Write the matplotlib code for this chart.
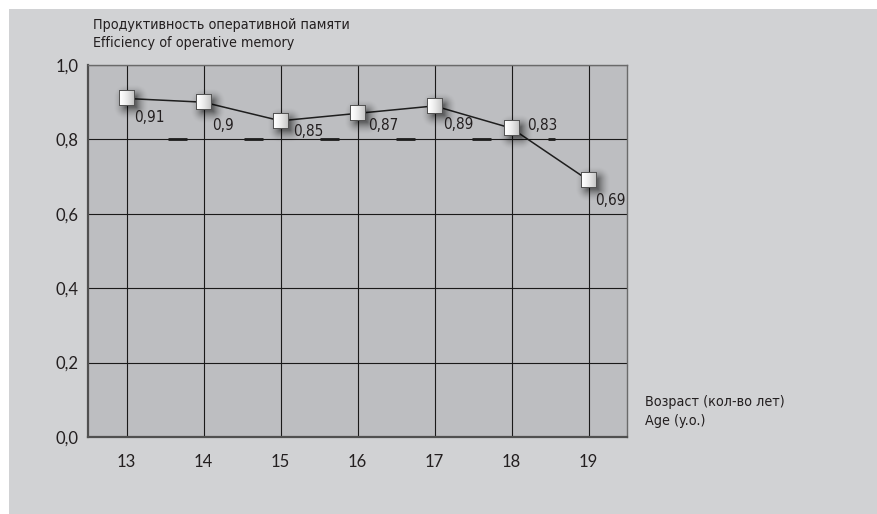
#! /usr/bin/env python3

import numpy as np
import matplotlib
matplotlib.use('Agg')
import matplotlib.pyplot as plt
from matplotlib.patches import Rectangle
from matplotlib.offsetbox import OffsetImage, AnnotationBbox

# data
ages = [13, 14, 15, 16, 17, 18, 19]
efficiency = [0.91, 0.90, 0.85, 0.87, 0.89, 0.83, 0.69]
value_labels = ['0,91', '0,9', '0,85', '0,87', '0,89', '0,83', '0,69']
y_ticks = [0.0, 0.2, 0.4, 0.6, 0.8, 1.0]
y_tick_labels = ['0,0', '0,2', '0,4', '0,6', '0,8', '1,0']
title_lines = ['Продуктивность оперативной памяти', 'Efficiency of operative memory']
xlabel_lines = ['Возраст (кол-во лет)', 'Age (y.o.)']

# label offsets in pixels (dx, dy) relative to marker centre
label_offsets = [(8, -19), (9, -23), (13, -11), (11, -12), (9, -19), (16, 3), (7, -20)]

NARROW = ['Liberation Sans Narrow', 'DejaVu Sans']
REGULAR = ['Lato', 'DejaVu Sans']

DPI = 100
PT = 72 / DPI  # points per pixel

fig = plt.figure(figsize=(8.78, 5.14), dpi=DPI, facecolor='white')
fig.patches.append(Rectangle((9 / 878, 0), 1, 1 - 9 / 514, transform=fig.transFigure,
                             facecolor='#d1d2d4', edgecolor='none', zorder=-10))

ax = fig.add_axes([88 / 878, 1 - 437 / 514, (627 - 88) / 878, (437 - 65) / 514])
ax.set_zorder(5)
ax.set_facecolor('#bdbec1')
ax.set_xlim(12.5, 19.5)
ax.set_ylim(0, 1.0)
ax.set_xticks(ages)
ax.set_xticklabels([str(a) for a in ages])
ax.set_yticks(y_ticks)
ax.set_yticklabels(y_tick_labels)
ax.tick_params(length=0, labelsize=12, colors='#231f20')
ax.tick_params(axis='y', pad=7)
ax.tick_params(axis='x', pad=12)
for lab in ax.get_xticklabels() + ax.get_yticklabels():
    lab.set_family(REGULAR)
ax.grid(True, color='#1a1a1a', linewidth=0.8)
ax.set_axisbelow(True)
for side in ['left', 'bottom']:
    ax.spines[side].set_color('#505050')
    ax.spines[side].set_linewidth(1.6)
for side in ['top', 'right']:
    ax.spines[side].set_color('#6a6a6a')
    ax.spines[side].set_linewidth(1.0)

# faint dark dashes on the 0.8 line (dash lengths given in pixels, scaled by lw)
lw_dash = 2.0
ax.axhline(0.8, xmin=80 / 539, xmax=467 / 539, color='#1c1c1c', linewidth=lw_dash,
           dashes=(19 * PT / lw_dash, 57 * PT / lw_dash), dash_capstyle='butt',
           zorder=1.5)

ax.plot(ages, efficiency, color='#1e1e1e', linewidth=1.1, zorder=3)

# marker images: shadow and gradient square
n = 16
gx = np.linspace(0, 1, n)
shade = 1.0 - 0.24 * gx ** 1.5
square = np.ones((n, n, 4))
square[:, :, 0] = shade[None, :]
square[:, :, 1] = shade[None, :]
square[:, :, 2] = shade[None, :]
edge = np.array([0.33, 0.33, 0.33, 1.0])
square[0, :] = edge
square[-1, :] = edge
square[:, 0] = edge
square[:, -1] = edge

m = 40
yy, xx = np.mgrid[0:m, 0:m]
c = (m - 1) / 2
dist = np.sqrt(np.maximum(np.abs(xx - c) - 5, 0) ** 2 + np.maximum(np.abs(yy - c) - 5, 0) ** 2)
alpha = np.clip(1 - dist / 13.0, 0, 1) ** 1.8 * 0.5
shadow = np.zeros((m, m, 4))
shadow[:, :, 3] = alpha

for x, y in zip(ages, efficiency):
    sh = AnnotationBbox(OffsetImage(shadow, zoom=PT), (x, y), xybox=(4 * PT, -4 * PT),
                        boxcoords='offset points', frameon=False, pad=0, zorder=3.5)
    ax.add_artist(sh)
    mk = AnnotationBbox(OffsetImage(square, zoom=PT), (x, y), frameon=False,
                        pad=0, zorder=4)
    ax.add_artist(mk)

for x, y, txt, (dx, dy) in zip(ages, efficiency, value_labels, label_offsets):
    ax.annotate(txt, (x, y), xytext=(dx * PT, dy * PT),
                textcoords='offset points', ha='left', va='center',
                fontsize=11, family=NARROW, stretch='condensed', color='#231f20', zorder=5)

text_kw = dict(fontsize=10.3, family=NARROW, stretch='condensed', color='#231f20',
               va='center', ha='left')
fig.text(93 / 878, 1 - 25 / 514, title_lines[0], **text_kw)
fig.text(93 / 878, 1 - 43 / 514, title_lines[1], **text_kw)
fig.text(645 / 878, 1 - 402 / 514, xlabel_lines[0], **text_kw)
fig.text(645 / 878, 1 - 421 / 514, xlabel_lines[1], **text_kw)

plt.savefig('out.png', dpi=DPI, facecolor=fig.get_facecolor())
